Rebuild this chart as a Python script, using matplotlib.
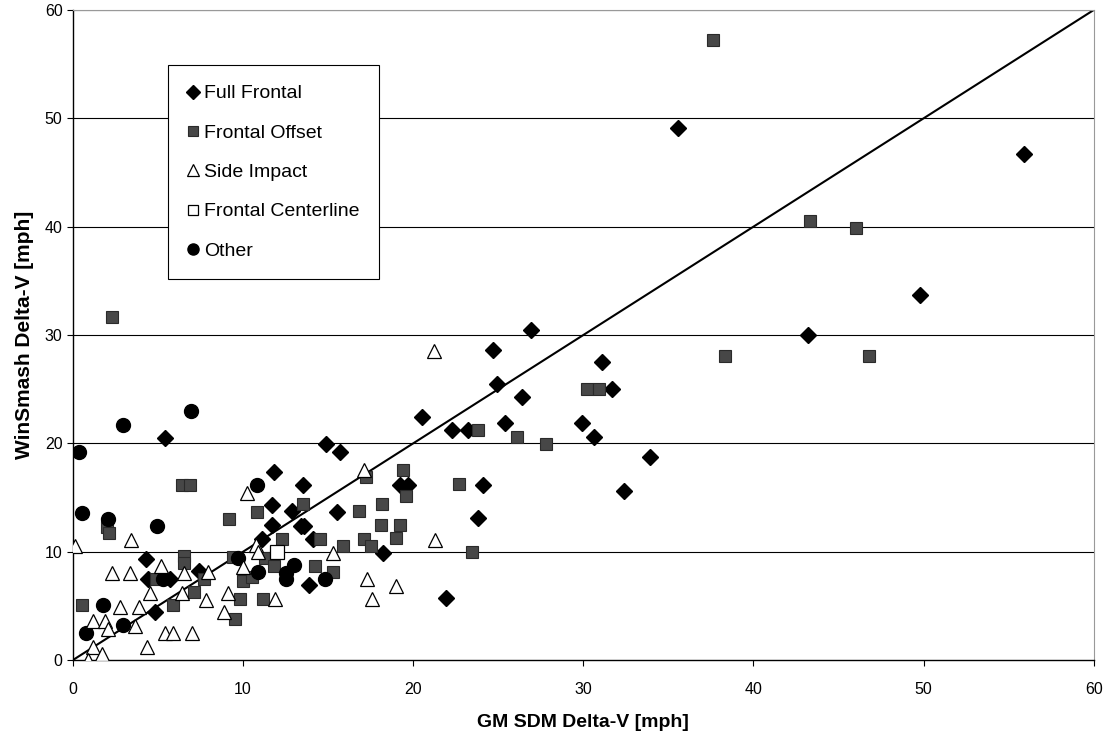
import matplotlib
matplotlib.use("Agg")
import matplotlib.pyplot as plt
import numpy as np

plt.rcParams["font.family"] = ["Liberation Sans", "DejaVu Sans"]

# GM SDM delta-V (x) vs WinSmash delta-V (y), mph
full_frontal_x = [5.4, 4.3, 4.4, 5.7, 7.4, 4.8, 14.9, 15.7, 11.8, 13.55, 19.2, 19.7,
                  11.7, 12.9, 15.5, 11.7, 13.4, 13.6, 11.1, 14.1, 18.2, 13.9, 20.5,
                  26.9, 24.7, 24.9, 31.1, 31.7, 26.4, 22.3, 23.2, 25.4, 29.9, 30.6,
                  33.9, 24.1, 32.4, 23.8, 21.9, 35.55, 55.9, 49.8, 43.2]
full_frontal_y = [20.5, 9.3, 7.5, 7.5, 8.2, 4.4, 19.9, 19.2, 17.4, 16.2, 16.2, 16.2,
                  14.3, 13.75, 13.7, 12.5, 12.4, 12.4, 11.2, 11.2, 9.9, 6.9, 22.4,
                  30.5, 28.6, 25.5, 27.5, 25.0, 24.3, 21.2, 21.2, 21.85, 21.85, 20.6,
                  18.7, 16.2, 15.6, 13.1, 5.7, 49.1, 46.7, 33.7, 30.0]

offset_x = [2.3, 6.4, 6.9, 10.8, 2.0, 2.1, 9.2, 6.5, 6.5, 7.7, 7.1, 5.85, 0.55,
            9.4, 10.0, 10.5, 9.8, 9.5, 4.9, 17.2, 19.4, 19.6, 13.5, 16.8, 18.15,
            18.1, 19.2, 12.3, 14.5, 15.9, 17.1, 17.5, 19.0, 11.3, 11.8, 14.2,
            15.3, 11.15, 23.8, 26.1, 27.8, 30.2, 30.9, 22.7, 23.45, 37.6, 43.35,
            46.0, 38.35, 46.8]
offset_y = [31.7, 16.2, 16.2, 13.7, 12.3, 11.75, 13.0, 9.6, 9.0, 7.5, 6.3, 5.05,
            5.05, 9.5, 7.3, 7.7, 5.6, 3.8, 7.5, 16.85, 17.5, 15.1, 14.4, 13.75,
            14.4, 12.5, 12.5, 11.2, 11.2, 10.55, 11.2, 10.55, 11.3, 9.4, 8.7, 8.7,
            8.15, 5.6, 21.2, 20.6, 19.9, 25.0, 25.0, 16.25, 10.0, 57.2, 40.5,
            39.9, 28.1, 28.1]

side_x = [21.2, 10.25, 0.12, 3.4, 10.75, 10.9, 5.2, 6.5, 2.3, 3.35, 7.96, 4.53,
          6.4, 7.82, 9.1, 2.76, 3.88, 1.2, 1.88, 2.08, 3.66, 5.41, 5.86, 6.98,
          4.33, 1.2, 1.69, 0.9, 10.0, 8.9, 15.3, 17.1, 17.3, 19.0, 17.6, 11.9,
          21.3]
side_y = [28.55, 15.45, 10.5, 11.1, 10.6, 10.0, 8.7, 8.0, 8.0, 8.0, 8.15, 6.15,
          6.15, 5.5, 6.2, 4.9, 4.9, 3.6, 3.6, 2.9, 3.1, 2.46, 2.46, 2.46, 1.2,
          1.2, 0.6, 0.0, 8.6, 4.4, 9.85, 17.5, 7.45, 6.86, 5.6, 5.6, 11.1]

centerline_x = [11.98]
centerline_y = [9.94]

other_x = [2.96, 6.92, 0.35, 10.8, 0.55, 2.08, 4.94, 9.7, 10.9, 12.5, 13.0,
           12.5, 14.8, 1.75, 2.96, 0.76, 5.3]
other_y = [21.7, 23.0, 19.2, 16.2, 13.6, 13.0, 12.4, 9.4, 8.15, 8.0, 8.8,
           7.45, 7.5, 5.07, 3.2, 2.5, 7.5]

fig = plt.figure(figsize=(11.16, 7.42), dpi=100)
ax = fig.add_axes([0.0654, 0.1105, 0.9146, 0.876])

ax.set_xlim(0, 60)
ax.set_ylim(0, 60)
for yv in range(10, 61, 10):
    ax.axhline(yv, color="black", lw=0.8, zorder=1)
ax.plot([0, 60], [0, 60], color="black", lw=1.5, zorder=2)

ax.plot(full_frontal_x, full_frontal_y, "D", ms=8.5, color="black",
        label="Full Frontal", zorder=3)
ax.plot(offset_x, offset_y, "s", ms=9, mfc="#474747", mec="#2a2a2a", mew=0.8,
        label="Frontal Offset", zorder=3)
ax.plot(side_x, side_y, "^", ms=10, mfc="white", mec="black", mew=0.9,
        label="Side Impact", zorder=4)
ax.plot(centerline_x, centerline_y, "s", ms=9.5, mfc="white", mec="black",
        mew=0.9, label="Frontal Centerline", zorder=4)
ax.plot(other_x, other_y, "o", ms=10, color="black", label="Other", zorder=3)

ax.set_xticks(np.arange(0, 61, 10))
ax.set_yticks(np.arange(0, 61, 10))
ax.tick_params(direction="out", length=4, labelsize=11.5, width=0.8)
ax.tick_params(axis="x", pad=12)
for s in ("top", "right"):
    ax.spines[s].set_color("#999999")
    ax.spines[s].set_linewidth(0.8)
for s in ("bottom", "left"):
    ax.spines[s].set_linewidth(1.0)

ax.set_xlabel("GM SDM Delta-V [mph]", fontsize=14, fontweight="bold", labelpad=12)
ax.set_ylabel("WinSmash Delta-V [mph]", fontsize=15, fontweight="bold", labelpad=8)

leg = ax.legend(loc="upper left", bbox_to_anchor=(0.093, 0.915), fontsize=14,
                frameon=True, fancybox=False, edgecolor="black", framealpha=1,
                handlelength=0.6, handletextpad=0.25, labelspacing=1.12,
                markerscale=0.8, borderpad=1.0, borderaxespad=0)
leg.get_frame().set_linewidth(0.8)

fig.savefig("out.png", dpi=100)
